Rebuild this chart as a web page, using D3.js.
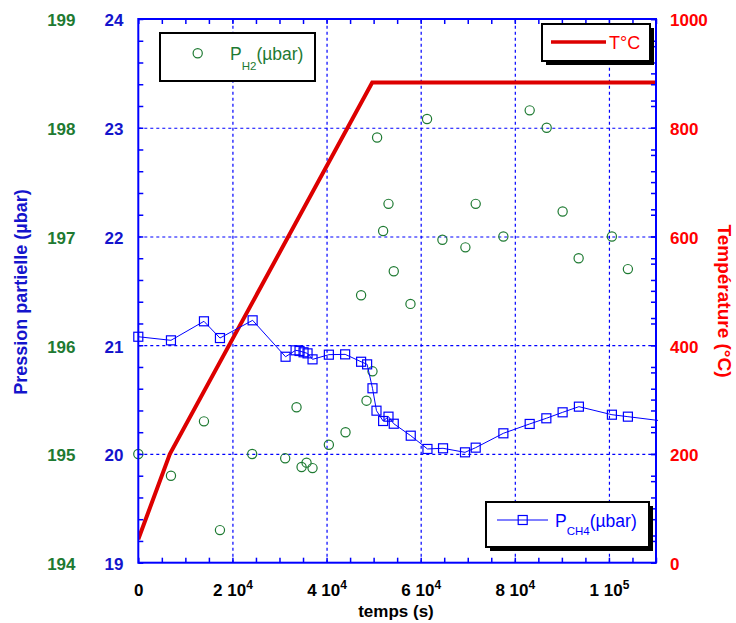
<!DOCTYPE html>
<html><head><meta charset="utf-8">
<script src="https://cdn.jsdelivr.net/npm/d3@7"></script>
<style>body{margin:0;background:#fff}svg{display:block;font-family:"Liberation Sans",Arial,sans-serif}</style>
</head><body><svg id="c" width="736" height="623"></svg>
<script>
// ---- data ----
const tempTime  = [0, 6700, 49700, 110000];
const tempValue = [43, 200, 883, 883];

const h2Time  = [0, 6940, 13950, 17350, 24200, 31210, 33620, 34690, 35750, 37020, 40490, 44030, 47340, 48490, 49760, 50740, 52020, 53160, 54280, 57830, 61350, 64620, 69500, 71690, 77570, 83160, 86770, 90160, 93560, 100630, 104030];
const h2Value = [195.0, 194.80, 195.30, 194.30, 195.0, 194.96, 195.43, 194.88, 194.92, 194.87, 195.085, 195.2, 196.46, 195.49, 195.76, 197.91, 197.05, 197.30, 196.68, 196.38, 198.08, 196.97, 196.90, 197.30, 197.0, 198.16, 198.0, 197.23, 196.80, 197.0, 196.70];

const ch4Time  = [0, 6940, 13950, 17350, 24290, 31290, 33420, 34260, 35110, 35960, 37020, 40490, 43950, 47340, 48620, 49760, 50610, 52020, 53160, 54280, 57890, 61440, 64750, 69420, 71690, 77570, 83160, 86700, 90160, 93620, 100630, 104030, 112000];
const ch4Value = [21.078, 21.045, 21.22, 21.066, 21.229, 20.894, 20.953, 20.947, 20.935, 20.925, 20.87, 20.913, 20.916, 20.848, 20.824, 20.604, 20.398, 20.303, 20.343, 20.278, 20.168, 20.046, 20.052, 20.015, 20.058, 20.19, 20.276, 20.328, 20.383, 20.435, 20.361, 20.343, 20.30];

const xMajor = [0, 20000, 40000, 60000, 80000, 100000];
const xTickMant = ["0", "2 10", "4 10", "6 10", "8 10", "1 10"];
const xTickExp  = ["", "4", "4", "4", "4", "5"];
const ch4Ticks = [19, 20, 21, 22, 23, 24];
const h2Ticks  = [194, 195, 196, 197, 198, 199];
const tempTicks = [0, 200, 400, 600, 800, 1000];

// ---- layout ----
const L = 138.3, R = 656, T = 19, B = 562.7;
const BLUE = '#0000ff', GREEN = '#1e7a32', RED = '#ff0000', LRED = '#dd0000';
const x = d3.scaleLinear([0, 110000], [L, R]);
const yCH4 = d3.scaleLinear([19, 24], [B, T]);
const yH2 = d3.scaleLinear([194, 199], [B, T]);
const yT = d3.scaleLinear([0, 1000], [B, T]);
const svg = d3.select('#c');

svg.append('defs').append('clipPath').attr('id', 'clip')
  .append('rect').attr('x', L).attr('y', T - 3).attr('width', R - L + 2).attr('height', B - T + 6);

// grid
const styleGrid = g => { g.select('.domain').remove(); g.selectAll('line').attr('stroke', BLUE).attr('stroke-width', 1.2).attr('stroke-dasharray', '3,3'); g.selectAll('text').remove(); };
svg.append('g').attr('transform', `translate(0,${B})`)
  .call(d3.axisBottom(x).tickValues(xMajor.slice(1)).tickSize(-(B - T)).tickFormat('')).call(styleGrid);
svg.append('g').attr('transform', `translate(${L},0)`)
  .call(d3.axisLeft(yCH4).tickValues(ch4Ticks.slice(1, -1)).tickSize(-(R - L)).tickFormat('')).call(styleGrid);

// temperature
const tempData = tempTime.map((t, i) => [t, tempValue[i]]);
svg.append('path').datum(tempData).attr('clip-path', 'url(#clip)')
  .attr('d', d3.line().x(d => x(d[0])).y(d => yT(d[1])))
  .attr('fill', 'none').attr('stroke', LRED).attr('stroke-width', 4).attr('stroke-linejoin', 'miter');

// H2 circles
const h2Data = h2Time.map((t, i) => [t, h2Value[i]]);
svg.append('g').selectAll('circle').data(h2Data).join('circle')
  .attr('cx', d => x(d[0])).attr('cy', d => yH2(d[1])).attr('r', 4.6)
  .attr('fill', 'none').attr('stroke', GREEN).attr('stroke-width', 1.2);

// CH4 line + squares
const ch4Data = ch4Time.map((t, i) => [t, ch4Value[i]]);
svg.append('path').datum(ch4Data).attr('clip-path', 'url(#clip)')
  .attr('d', d3.line().x(d => x(d[0])).y(d => yCH4(d[1])))
  .attr('fill', 'none').attr('stroke', BLUE).attr('stroke-width', 1);
svg.append('g').selectAll('rect').data(ch4Data.filter(d => d[0] <= 110000)).join('rect')
  .attr('x', d => x(d[0]) - 4.5).attr('y', d => yCH4(d[1]) - 4.5).attr('width', 9).attr('height', 9)
  .attr('fill', 'none').attr('stroke', BLUE).attr('stroke-width', 1.2);

// ticks
const minorX = d3.range(0, 110001, 5000);
const styleTicks = g => { g.select('.domain').remove(); g.selectAll('line').attr('stroke', BLUE).attr('stroke-width', 1.5); g.selectAll('text').remove(); };
svg.append('g').attr('transform', `translate(0,${B})`).call(d3.axisBottom(x).tickValues(minorX).tickSize(-5)).call(styleTicks);
svg.append('g').attr('transform', `translate(0,${T})`).call(d3.axisTop(x).tickValues(minorX).tickSize(-5)).call(styleTicks);
const minorY = d3.range(19, 24.001, 0.2);
svg.append('g').attr('transform', `translate(${L},0)`).call(d3.axisLeft(yCH4).tickValues(minorY).tickSize(-5)).call(styleTicks);
svg.append('g').attr('transform', `translate(${R},0)`).call(d3.axisRight(yCH4).tickValues(minorY).tickSize(-5)).call(styleTicks);
svg.append('g').attr('transform', `translate(${R},0)`).call(d3.axisRight(yT).tickValues(d3.range(0, 1001, 50)).tickSize(-5)).call(styleTicks);

// frame
svg.append('rect').attr('x', L).attr('y', T).attr('width', R - L).attr('height', B - T)
  .attr('fill', 'none').attr('stroke', BLUE).attr('stroke-width', 2);

// labels
const styleLab = (g, col) => {
  g.attr('font-family', null).attr('font-size', null);
  g.select('.domain').remove();
  g.selectAll('line').remove();
  g.selectAll('text').attr('fill', col).attr('font-size', 17).attr('font-weight', 'bold').attr('dy', '0.4em');
};
const xl = svg.append('g').attr('transform', `translate(0,${B})`)
  .call(d3.axisBottom(x).tickValues(xMajor).tickSize(0).tickFormat((d, i) => xTickMant[i]));
xl.attr('font-family', null).attr('font-size', null);
xl.select('.domain').remove();
xl.selectAll('text').attr('y', 33.5).attr('dy', null).attr('fill', '#000').attr('font-size', 17).attr('font-weight', 'bold')
  .each(function (d, i) { if (xTickExp[i]) d3.select(this).append('tspan').attr('dy', -7).attr('font-size', 12).text(xTickExp[i]); });

svg.append('g').attr('transform', `translate(${L},0)`)
  .call(d3.axisLeft(yCH4).tickValues(ch4Ticks).tickSize(0).tickPadding(L - 123.5).tickFormat(d3.format('d')))
  .call(g => styleLab(g, '#1414cc'));
svg.append('g').attr('transform', `translate(${L},0)`)
  .call(d3.axisLeft(yH2).tickValues(h2Ticks).tickSize(0).tickPadding(L - 75.5).tickFormat(d3.format('d')))
  .call(g => styleLab(g, GREEN));
svg.append('g').attr('transform', `translate(${R},0)`)
  .call(d3.axisRight(yT).tickValues(tempTicks).tickSize(0).tickPadding(14).tickFormat(d3.format('d')))
  .call(g => styleLab(g, RED));

// titles
svg.append('text').attr('transform', 'translate(27,292) rotate(-90)').attr('text-anchor', 'middle')
  .attr('fill', '#1414cc').attr('font-size', 18).attr('font-weight', 'bold').text('Pression partielle (µbar)');
svg.append('text').attr('transform', 'translate(718,301) rotate(90)').attr('text-anchor', 'middle')
  .attr('fill', RED).attr('font-size', 19).attr('font-weight', 'bold').text('Température (°C)');
svg.append('text').attr('x', 396).attr('y', 617).attr('text-anchor', 'middle')
  .attr('fill', '#000').attr('font-size', 17).attr('font-weight', 'bold').text('temps (s)');

// legends
function box(x0, y0, w, h, shadow) {
  if (shadow) svg.append('rect').attr('x', x0 + 4).attr('y', y0 + 4).attr('width', w).attr('height', h).attr('fill', '#000');
  svg.append('rect').attr('x', x0).attr('y', y0).attr('width', w).attr('height', h).attr('fill', '#fff').attr('stroke', '#000').attr('stroke-width', 2);
}
// H2
box(160, 33, 155, 48, false);
svg.append('circle').attr('cx', 197.7).attr('cy', 53.3).attr('r', 4.6).attr('fill', 'none').attr('stroke', GREEN).attr('stroke-width', 1.2);
const t1 = svg.append('text').attr('x', 230).attr('y', 60).attr('fill', GREEN).attr('font-size', 17.5);
t1.append('tspan').text('P');
t1.append('tspan').attr('dy', 10).attr('font-size', 11.5).text('H2');
t1.append('tspan').attr('dy', -10).text('(µbar)');
// T°C
box(542, 24, 108, 37, true);
svg.append('line').attr('x1', 551).attr('x2', 606).attr('y1', 42).attr('y2', 42).attr('stroke', LRED).attr('stroke-width', 3.5);
svg.append('text').attr('x', 609).attr('y', 49).attr('fill', RED).attr('font-size', 18).text('T°C');
// CH4
box(486, 502, 163, 45, true);
svg.append('line').attr('x1', 497).attr('x2', 548).attr('y1', 520).attr('y2', 520).attr('stroke', BLUE).attr('stroke-width', 1);
svg.append('rect').attr('x', 522.7 - 4.5).attr('y', 520 - 4.5).attr('width', 9).attr('height', 9).attr('fill', 'none').attr('stroke', BLUE).attr('stroke-width', 1.2);
const t2 = svg.append('text').attr('x', 555).attr('y', 527).attr('fill', BLUE).attr('font-size', 17.5);
t2.append('tspan').text('P');
t2.append('tspan').attr('dy', 8).attr('font-size', 11.5).text('CH4');
t2.append('tspan').attr('dy', -8).text('(µbar)');
</script>
</body></html>
